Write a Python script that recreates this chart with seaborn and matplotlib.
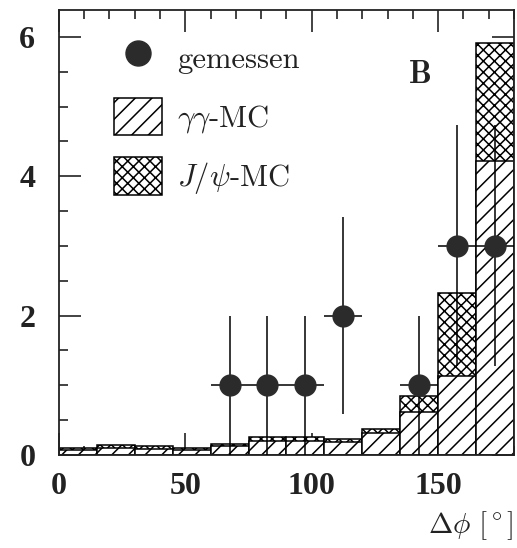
import numpy as np
import pandas as pd
import matplotlib
matplotlib.use("Agg")
import matplotlib.pyplot as plt
import seaborn as sns
from matplotlib.lines import Line2D
from matplotlib.patches import Patch
from matplotlib.ticker import MultipleLocator

# ---- data ----
bin_edges = [0, 15, 30, 45, 60, 75, 90, 105, 120, 135, 150, 165, 180]
bin_centers = [7.5, 22.5, 37.5, 52.5, 67.5, 82.5, 97.5, 112.5, 127.5, 142.5, 157.5, 172.5]
gg_mc = [0.07, 0.10, 0.08, 0.07, 0.12, 0.20, 0.20, 0.18, 0.32, 0.61, 1.13, 4.22]
jpsi_mc = [0.03, 0.04, 0.04, 0.03, 0.04, 0.06, 0.06, 0.05, 0.05, 0.23, 1.20, 1.70]

meas_x = [67.5, 82.5, 97.5, 112.5, 142.5, 157.5, 172.5]
meas_y = [1, 1, 1, 2, 1, 3, 3]
meas_yerr = [1.0, 1.0, 1.0, 1.41, 1.0, 1.73, 1.73]
meas_xerr = [7.5, 7.5, 7.5, 7.5, 7.5, 7.5, 7.5]

x_ticks = [0, 50, 100, 150]
y_ticks = [0, 2, 4, 6]

# ---- style ----
sns.set_style("ticks")
plt.rcParams["mathtext.fontset"] = "cm"
plt.rcParams["hatch.linewidth"] = 1.1
plt.rcParams["axes.unicode_minus"] = False

fig = plt.figure(figsize=(5.17, 5.48), dpi=100)
ax = fig.add_axes([0.114, 0.170, 0.880, 0.812])

df_total = pd.DataFrame({"x": bin_centers,
                         "w": [g + j for g, j in zip(gg_mc, jpsi_mc)]})
df_gg = pd.DataFrame({"x": bin_centers, "w": gg_mc})

sns.histplot(data=df_total, x="x", weights="w", bins=bin_edges, ax=ax,
             element="bars", fill=True, color="white", edgecolor="black",
             linewidth=1.1, alpha=1.0, hatch="xxx", zorder=1)
sns.histplot(data=df_gg, x="x", weights="w", bins=bin_edges, ax=ax,
             element="bars", fill=True, color="white", edgecolor="black",
             linewidth=1.1, alpha=1.0, hatch="//", zorder=2)
for p in ax.patches:
    p.set_facecolor("white")

ax.errorbar(meas_x, meas_y, xerr=meas_xerr, yerr=meas_yerr, fmt="o",
            color="black", ecolor="black", elinewidth=1.1, capsize=0,
            markersize=15, markerfacecolor="#2b2b2b", markeredgecolor="#2b2b2b",
            zorder=5)

ax.set_xlim(0, 180)
ax.set_ylim(0, 6.39)
ax.set_xticks(x_ticks)
ax.set_yticks(y_ticks)
ax.xaxis.set_minor_locator(MultipleLocator(10))
ax.yaxis.set_minor_locator(MultipleLocator(0.5))
ax.tick_params(which="both", direction="in", top=True, right=True,
               color="#222222", width=1.2)
ax.tick_params(which="major", length=16)
ax.tick_params(which="minor", length=6.5)
ax.tick_params(axis="y", which="major", pad=17)
ax.tick_params(axis="x", which="major", pad=12)
for lab in ax.get_xticklabels() + ax.get_yticklabels():
    lab.set_family("Liberation Serif")
    lab.set_weight("bold")
    lab.set_fontsize(23)
    lab.set_color("#222222")
for s in ax.spines.values():
    s.set_linewidth(1.3)
    s.set_color("#222222")

ax.set_ylabel("")
ax.set_xlabel(r"$\Delta\phi\ [^\circ]$", loc="right", fontsize=21,
              labelpad=6, color="#222222")

handles = [
    Line2D([0], [0], marker="o", linestyle="none", markersize=18,
           markerfacecolor="#2b2b2b", markeredgecolor="#2b2b2b"),
    Patch(facecolor="white", edgecolor="black", hatch="//", linewidth=1.1),
    Patch(facecolor="white", edgecolor="black", hatch="xxx", linewidth=1.1),
]
labels = ["gemessen", r"$\gamma\gamma$-MC", r"$J/\psi$-MC"]
leg = ax.legend(handles, labels, loc="upper left",
                bbox_to_anchor=(0.12, 0.935), frameon=False, borderpad=0,
                borderaxespad=0, handlelength=1.57, handleheight=1.5,
                handletextpad=0.5, labelspacing=0.72,
                prop={"family": "cmr10", "size": 22})
for t in leg.get_texts():
    t.set_color("#222222")

ax.text(0.77, 0.855, "B", transform=ax.transAxes, fontsize=23,
        family="cmb10", ha="left", va="center", color="#222222")

fig.savefig("out.png", dpi=100)
